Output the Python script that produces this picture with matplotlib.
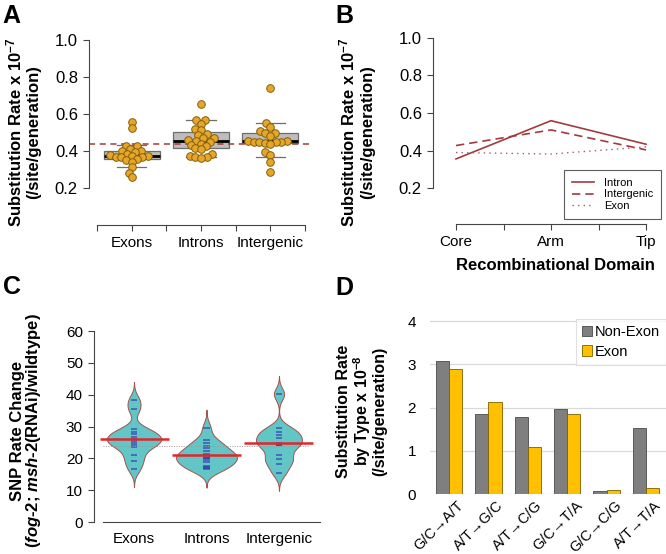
import matplotlib.pyplot as plt
import numpy as np
from matplotlib.patches import Patch

plt.rcParams['font.family'] = ['Liberation Sans', 'DejaVu Sans']
plt.rcParams['mathtext.fontset'] = 'custom'
plt.rcParams['mathtext.rm'] = 'Liberation Sans:bold'
plt.rcParams['mathtext.it'] = 'Liberation Sans:italic:bold'
plt.rcParams['mathtext.bf'] = 'Liberation Sans:bold'

W, H = 666, 554

# --- Panel A: substitution rate per region (one point per line) ---
region_names = ['Exons', 'Introns', 'Intergenic']
exon_rates = [0.558, 0.523, 0.429, 0.425, 0.410, 0.402, 0.400, 0.396, 0.385,
              0.378, 0.374, 0.372, 0.370, 0.368, 0.366, 0.358, 0.352, 0.342,
              0.312, 0.283, 0.258]
intron_rates = [0.654, 0.567, 0.565, 0.546, 0.520, 0.512, 0.490, 0.485, 0.470,
                0.468, 0.460, 0.455, 0.450, 0.440, 0.435, 0.426, 0.415, 0.410,
                0.382, 0.375, 0.370, 0.365, 0.362]
intergenic_rates = [0.742, 0.550, 0.528, 0.510, 0.500, 0.495, 0.480, 0.455,
                    0.452, 0.450, 0.450, 0.448, 0.448, 0.445, 0.440, 0.392,
                    0.378, 0.342, 0.288]
box_q1 = [0.355, 0.415, 0.442]
box_med = [0.371, 0.454, 0.454]
box_q3 = [0.400, 0.501, 0.499]
box_lo = [0.312, 0.366, 0.369]
box_hi = [0.430, 0.566, 0.550]
genome_rate = 0.437

# --- Panel B: rate by recombinational domain ---
domains = ['Core', 'Arm', 'Tip']
intron_domain = [0.356, 0.559, 0.434]
intergenic_domain = [0.427, 0.510, 0.404]
exon_domain = [0.390, 0.382, 0.420]

# --- Panel C: SNP rate change (fog-2; msh-2(RNAi) / wildtype) ---
snp_exons = [38.3, 35.4, 29.1, 28.4, 27.6, 26.8, 26.1, 25.5, 24.9, 24.2, 23.5,
             21.0, 19.2, 16.7]
snp_introns = [29.6, 25.8, 24.9, 24.0, 23.1, 22.3, 21.4, 21.0, 20.7, 20.2,
               20.0, 19.5, 18.8, 17.6, 17.2, 16.9, 16.5]
snp_intergenic = [40.2, 29.4, 28.4, 27.3, 26.5, 24.7, 24.2, 24.2, 21.0, 19.7,
                  18.2, 15.5]

# --- Panel D: substitution rate by type ---
sub_types = ['G/C→A/T', 'A/T→G/C', 'A/T→C/G', 'G/C→T/A', 'G/C→C/G', 'A/T→T/A']
non_exon_rate = [3.07, 1.85, 1.79, 1.97, 0.07, 1.53]
exon_rate = [2.89, 2.13, 1.09, 1.85, 0.085, 0.146]

RED = '#A33A3F'
AXC = '#444444'


def add_ax(fig, left, top, right, bottom):
    """Axes from pixel box (top-left origin)."""
    return fig.add_axes([left / W, 1 - bottom / H,
                         (right - left) / W, (bottom - top) / H])


def swarm_x(values, center, px_x, px_y, diam):
    """Simple beeswarm: nudge points sideways until they stop overlapping."""
    vals = np.asarray(values, dtype=float)
    xs = np.zeros(len(vals))
    placed = []
    for i in np.argsort(vals):
        ypx = vals[i] * px_y
        found = None
        for step in range(400):
            for sgn in ((0,) if step == 0 else (-1, 1)):
                cand = sgn * step * 0.5
                if all((cand - px) ** 2 + (ypx - py) ** 2 >= diam ** 2
                       for px, py in placed):
                    found = cand
                    break
            if found is not None:
                break
        placed.append((found, ypx))
        xs[i] = center + found / px_x
    return xs


def ylabel_lines(fig, lines, xs, yc, size=12):
    for txt, x in zip(lines, xs):
        fig.text(x / W, 1 - yc / H, txt, rotation=90, ha='center',
                 va='center', fontsize=size, fontweight='bold')


def style_spines(ax):
    for s in ('top', 'right'):
        ax.spines[s].set_visible(False)
    for s in ('left', 'bottom'):
        ax.spines[s].set_color(AXC)
        ax.spines[s].set_linewidth(0.8)
    ax.tick_params(direction='out', length=4.5, width=0.8, color=AXC)


fig = plt.figure(figsize=(W / 100, H / 100), dpi=100)

# ================= Panel A =================
axA = add_ax(fig, 89, 33, 313, 225)
stats = [dict(q1=q1, med=m, q3=q3, whislo=lo, whishi=hi, fliers=[])
         for q1, m, q3, lo, hi in zip(box_q1, box_med, box_q3, box_lo, box_hi)]
bp = axA.bxp(stats, positions=[1, 2, 3], widths=0.81, patch_artist=True,
             showfliers=False, capwidths=0.42, manage_ticks=False,
             boxprops=dict(facecolor='#BDBDBD', edgecolor='#6E6E6E', lw=0.9),
             medianprops=dict(color='black', lw=2),
             capprops=dict(color='#6E6E6E', lw=0.9),
             whiskerprops=dict(color='#6E6E6E', lw=0.9))
for w in bp['whiskers']:
    w.set_visible(False)

axA.set_xlim(0.385, 3.615)
axA.set_ylim(0.0, 1.038)
style_spines(axA)
axA.spines['left'].set_bounds(0.2, 1.0)
axA.spines['bottom'].set_bounds(0.5, 3.5)
axA.set_yticks([0.2, 0.4, 0.6, 0.8, 1.0])
axA.set_yticklabels(['0.2', '0.4', '0.6', '0.8', '1.0'], fontsize=12)
axA.set_xticks([0.5, 1, 1.5, 2, 2.5, 3, 3.5])
axA.set_xticklabels(['', 'Exons', '', 'Introns', '', 'Intergenic', ''],
                    fontsize=11)

axA.axhline(genome_rate, color=RED, ls=(0, (4, 3)), lw=1.1, zorder=2)

px_x = 208 / 3.0
px_y = 185.0
for pos, vals in enumerate([exon_rates, intron_rates, intergenic_rates], 1):
    xs = swarm_x(vals, pos, px_x, px_y, 5.5)
    axA.scatter(xs, vals, s=30, facecolor='#E8A628', edgecolor='#80600F',
                linewidth=0.7, zorder=4)

ylabel_lines(fig, [r'Substitution Rate x 10$^{-7}$', '(/site/generation)'],
             [14, 34], 132)

# ================= Panel B =================
axB = add_ax(fig, 433, 32, 660, 224)
axB.set_xlim(0.758, 3.147)
axB.set_ylim(0.0104, 1.03)
style_spines(axB)
axB.spines['left'].set_bounds(0.2, 1.0)
axB.spines['bottom'].set_bounds(1, 3)
axB.set_yticks([0.2, 0.4, 0.6, 0.8, 1.0])
axB.set_yticklabels(['0.2', '0.4', '0.6', '0.8', '1.0'], fontsize=12)
axB.set_xticks([1, 1.5, 2, 2.5, 3])
axB.set_xticklabels(['Core', '', 'Arm', '', 'Tip'], fontsize=11)

xB = np.arange(1, len(domains) + 1)
axB.plot(xB, intron_domain, color=RED, lw=1.2, ls='-', label='Intron')
axB.plot(xB, intergenic_domain, color=RED, lw=1.2, ls=(0, (5, 3)),
         label='Intergenic')
axB.plot(xB, exon_domain, color='#B0575C', lw=1.0, ls=(0, (1, 3)),
         label='Exon')
legB = axB.legend(loc='upper right', bbox_to_anchor=(661 / W, 1 - 170 / H),
                  bbox_transform=fig.transFigure, borderaxespad=0,
                  fontsize=8, frameon=True, fancybox=False, handlelength=2.0,
                  handletextpad=0.9, labelspacing=0.15, borderpad=0.7)
legB.get_frame().set_edgecolor('#333333')
legB.get_frame().set_linewidth(0.8)

ylabel_lines(fig, [r'Substitution Rate x 10$^{-7}$', '(/site/generation)'],
             [347, 368], 132)
fig.text(555 / W, 1 - 265 / H, 'Recombinational Domain', ha='center',
         va='center', fontsize=12, fontweight='bold')

# ================= Panel C =================
axC = add_ax(fig, 94, 325, 320, 522)
axC.set_xlim(0.448, 3.566)
axC.set_ylim(0, 61.9)
style_spines(axC)
axC.spines['left'].set_bounds(0, 60)
axC.spines['bottom'].set_bounds(0.572, 3.566)
axC.set_yticks(range(0, 61, 10))
axC.tick_params(axis='y', labelsize=11)
axC.set_xticks([1, 2, 3])
axC.set_xticklabels(region_names, fontsize=11)
axC.tick_params(axis='x', length=0, pad=7)

bw = 1.9
groups = [snp_exons, snp_introns, snp_intergenic]
curves = []
for vals in groups:
    v = np.asarray(vals)
    grid = np.linspace(v.min() - 3 * bw, v.max() + 3 * bw, 300)
    dens = np.exp(-0.5 * ((grid[:, None] - v[None, :]) / bw) ** 2).sum(1)
    dens /= len(v) * bw * np.sqrt(2 * np.pi)
    curves.append((grid, dens))
scale = 0.42 / max(d.max() for _, d in curves)

for pos, (vals, (grid, dens)) in enumerate(zip(groups, curves), 1):
    half = dens * scale
    axC.fill_betweenx(grid, pos - half, pos + half, facecolor='#62C6C6',
                      edgecolor='#A0524D', lw=0.7, zorder=2)
    axC.hlines(vals, pos - 0.045, pos + 0.045, color='#3030B0', lw=1.1,
               alpha=0.75, zorder=3)
    axC.hlines(np.mean(vals), pos - 0.476, pos + 0.476, color='#E3262A',
               lw=1.8, zorder=4)

overall = np.mean(np.concatenate([np.asarray(g) for g in groups]))
axC.hlines(overall, 0.572, 3.4, color='#9A9A9A', ls=(0, (1, 1.5)), lw=0.7,
           zorder=3)

ylabel_lines(fig, ['SNP Rate Change',
                   r'($\mathit{fog}$-$\mathit{2}$; $\mathit{msh}$-$\mathit{2}$(RNAi)/wildtype)'],
             [17.5, 34], 431)

# ================= Panel D =================
axD = add_ax(fig, 430, 319, 666, 494)
xD = np.arange(len(sub_types))
axD.set_xlim(-0.48, 5.51)
axD.set_ylim(0, 4.05)
for s in axD.spines.values():
    s.set_visible(False)
axD.set_yticks([0, 1, 2, 3, 4])
axD.tick_params(axis='y', length=0, labelsize=11, pad=10)
axD.yaxis.grid(True, color='#D9D9D9', lw=0.9)
axD.set_axisbelow(True)
bw_bar = 0.335
axD.bar(xD - bw_bar / 2, non_exon_rate, bw_bar, color='#7F7F7F',
        edgecolor='#4A4A4A', lw=0.6, label='Non-Exon')
axD.bar(xD + bw_bar / 2, exon_rate, bw_bar, color='#FFC000',
        edgecolor='#7F6000', lw=0.6, label='Exon')
axD.set_xticks(xD + 0.2)
axD.set_xticklabels(sub_types, rotation=45, ha='right',
                    rotation_mode='anchor', fontsize=10.5)
axD.tick_params(axis='x', length=0, pad=3)
handles = [Patch(facecolor='#7F7F7F', edgecolor='#4A4A4A', lw=0.6),
           Patch(facecolor='#FFC000', edgecolor='#7F6000', lw=0.6)]
legD = axD.legend(handles, ['Non-Exon', 'Exon'], loc='upper right',
                  bbox_to_anchor=(666 / W, 1 - 319 / H),
                  bbox_transform=fig.transFigure, borderaxespad=0,
                  fontsize=10.5, fancybox=False, handlelength=0.7,
                  handleheight=0.7, handletextpad=0.2, labelspacing=0.4,
                  borderpad=0.4)
legD.get_frame().set_edgecolor('#D9D9D9')
legD.get_frame().set_linewidth(0.8)

ylabel_lines(fig, ['Substitution Rate', r'by Type x 10$^{-8}$',
                   '(/site/generation)'], [344, 362, 380], 411, size=11.5)

# panel letters
for letter, x, y in [('A', 2, 23), ('B', 335, 23), ('C', 3, 294),
                     ('D', 335, 295)]:
    fig.text(x / W, 1 - y / H, letter, fontsize=18, fontweight='bold',
             ha='left', va='baseline')

fig.savefig('out.png', dpi=100)
